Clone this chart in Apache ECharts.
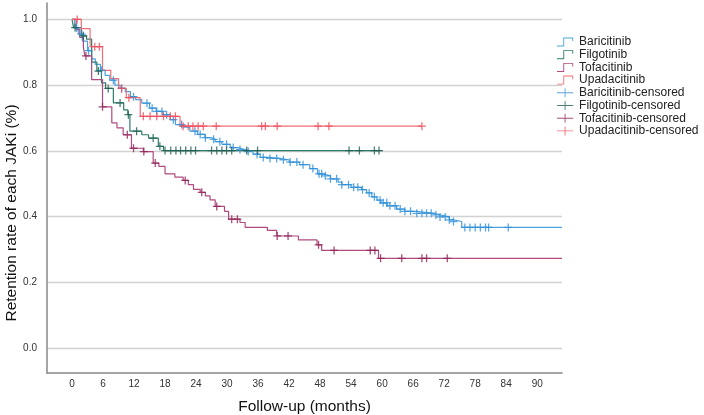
<!DOCTYPE html>
<html>
<head>
<meta charset="utf-8">
<script src="https://cdn.jsdelivr.net/npm/echarts@6/dist/echarts.min.js"></script>
<style>
  html, body { margin: 0; padding: 0; background: #fff; }
  #box { width: 704px; height: 415px; }
</style>
</head>
<body>
<div id="box"></div>
<script>
// x tick labels (months)
var monthTicks = [0, 6, 12, 18, 24, 30, 36, 42, 48, 54, 60, 66, 72, 78, 84, 90];
var rateTicks = [0, 0.2, 0.4, 0.6, 0.8, 1.0];

// KM steps: [month, retention after the step]
var bariSteps = [[0,1.0],[0.5,0.975],[1.2,0.955],[2.0,0.934],[3.0,0.905],[3.8,0.88],[4.5,0.863],[5.5,0.845],[6.4,0.83],[7.3,0.815],[8.3,0.80],[9.3,0.79],[10.3,0.78],[11.3,0.765],[12.3,0.756],[13.5,0.745],[15.0,0.73],[16.3,0.72],[17.6,0.71],[19.0,0.695],[20.0,0.68],[21.5,0.672],[22.8,0.66],[24.3,0.65],[25.7,0.64],[27.0,0.635],[27.7,0.628],[29.0,0.62],[30.6,0.61],[32.0,0.604],[33.5,0.598],[35.0,0.59],[36.4,0.58],[38.0,0.577],[40.0,0.573],[42.0,0.566],[44.0,0.558],[46.0,0.546],[47.5,0.53],[48.5,0.524],[50.0,0.515],[51.5,0.505],[52.2,0.497],[54.0,0.489],[56.0,0.482],[57.0,0.472],[58.0,0.46],[59.0,0.45],[59.8,0.442],[61.0,0.433],[62.8,0.423],[64.4,0.416],[66.7,0.41],[70.0,0.405],[71.2,0.399],[73.0,0.39],[73.8,0.385],[75.4,0.367],[94.8,0.367]];
var filgSteps = [[0,1.0],[0.3,0.975],[1.8,0.95],[2.8,0.94],[3.8,0.87],[4.8,0.843],[5.7,0.807],[6.5,0.79],[8.0,0.746],[10.0,0.725],[10.8,0.71],[11.2,0.66],[13.5,0.649],[14.8,0.639],[16.7,0.614],[17.7,0.601],[59.9,0.601]];
var tofaSteps = [[0,1.0],[0.8,0.97],[1.5,0.945],[2.2,0.915],[2.5,0.889],[3.8,0.817],[5.9,0.734],[7.7,0.685],[8.7,0.67],[9.9,0.649],[11.5,0.608],[13.8,0.598],[15.7,0.563],[16.8,0.553],[18.0,0.53],[19.9,0.52],[21.5,0.51],[22.5,0.497],[23.5,0.483],[24.8,0.474],[25.8,0.463],[26.7,0.451],[27.7,0.431],[29.5,0.416],[30.3,0.392],[32.5,0.382],[33.5,0.367],[37.8,0.358],[39.6,0.341],[43.8,0.329],[47.4,0.314],[48.3,0.297],[59.3,0.273],[94.8,0.273]];
var upadSteps = [[0,1.0],[1.8,0.972],[3.5,0.917],[5.9,0.845],[7.5,0.82],[9.0,0.79],[10.5,0.762],[13.2,0.705],[20.9,0.675],[67.7,0.675]];

// censoring times (months)
var bariCens = [0.9,1.9,3.2,5.7,8.0,9.6,11.9,14.5,15.5,16.4,17.4,18.3,19.6,21.2,23.8,24.8,25.8,27.4,28.6,29.9,31.2,32.5,34.1,35.8,37.0,38.3,39.6,40.9,42.2,43.5,44.7,46.6,47.8,48.3,49.0,50.0,51.2,52.2,53.5,54.5,55.3,56.2,57.5,58.5,59.6,60.2,60.9,61.5,62.5,63.5,64.4,65.5,66.7,67.7,68.6,69.5,70.4,71.2,72.2,73.0,73.8,76.0,77.0,78.0,79.0,80.0,80.6,84.4];
var filgCens = [0.6,2.2,5.1,7.0,9.3,10.9,12.5,15.7,17.0,18.0,19.1,20.1,21.0,22.0,23.0,23.9,27.0,28.0,29.0,29.9,30.9,33.8,35.9,53.6,55.6,58.5,59.4];
var tofaCens = [2.7,5.9,10.7,11.9,13.9,16.1,21.9,25.1,28.0,30.9,32.0,39.7,41.8,47.7,50.7,57.7,58.6,59.7,63.8,67.7,68.6,72.6];
var upadCens = [1.0,4.4,5.3,9.6,11.0,13.8,15.1,16.4,17.7,19.0,20.0,21.5,22.5,23.4,24.4,25.4,27.9,36.7,37.4,39.7,47.6,49.7,67.7];

var names = ['Baricitinib', 'Filgotinib', 'Tofacitinib', 'Upadacitinib'];
var lineColors = ['#4ba3dd', '#2d7d6a', '#b04a80', '#f26d75'];
var crossColors = ['#2f8fd8', '#1f5e50', '#8e1f52', '#f04a5a'];

//查找某时刻的生存率
function survAt(steps, t) {
    var v = steps[0][1];
    for (var i = 0; i < steps.length; i++) {
        if (steps[i][0] <= t) v = steps[i][1];
    }
    return v;
}

var stepIcon = 'path://M0,9L8,9L8,10L0,10Z M7,0L8,0L8,10L7,10Z M7,0L18,0L18,1L7,1Z M17,0L18,0L18,4L17,4Z';
var crossIcon = 'path://M0,4.5L18,4.5L18,5.5L0,5.5Z M8.5,0L9.5,0L9.5,10L8.5,10Z';
var crossMark = 'path://M0,4.2L10,4.2L10,5.8L0,5.8Z M4.2,0L5.8,0L5.8,10L4.2,10Z';

var allSteps = [bariSteps, filgSteps, tofaSteps, upadSteps];
var allCens = [bariCens, filgCens, tofaCens, upadCens];

var series = [];
var legendData = [];
for (var k = 0; k < 4; k++) {
    series.push({
        name: names[k],
        type: 'line',
        step: 'end',
        data: allSteps[k],
        showSymbol: false,
        symbol: 'none',
        lineStyle: { color: lineColors[k], width: 1.2 },
        itemStyle: { color: lineColors[k] },
        z: 2 + k
    });
    legendData.push({ name: names[k], icon: stepIcon });
}
for (var k = 0; k < 4; k++) {
    series.push({
        name: names[k] + '-censored',
        type: 'scatter',
        symbol: crossMark,
        symbolSize: 8,
        data: allCens[k].map(function (t) { return [t, survAt(allSteps[k], t)]; }),
        itemStyle: { color: crossColors[k] },
        z: 10
    });
    legendData.push({ name: names[k] + '-censored', icon: crossIcon });
}

var font = 'Liberation Sans, Arial, sans-serif';
var myChart = echarts.init(document.getElementById('box'));
var option = {
    backgroundColor: '#fff',
    animation: false,
    textStyle: { fontFamily: font },
    grid: { left: 47, right: 142, top: 3, bottom: 42, outerBoundsMode: 'none', containLabel: false },
    legend: {
        orient: 'vertical',
        left: 557,
        top: 36,
        padding: 0,
        itemWidth: 18,
        itemHeight: 9,
        itemGap: 0.7,
        textStyle: { fontSize: 12, color: '#222', lineHeight: 12, fontFamily: font },
        data: legendData
    },
    xAxis: {
        type: 'value',
        min: -4.84,
        max: 94.8,
        name: 'Follow-up (months)',
        nameLocation: 'middle',
        nameGap: 26,
        nameTextStyle: { fontSize: 15.5, color: '#111', fontFamily: font },
        axisLine: { show: true, onZero: false, lineStyle: { color: '#888', width: 1.5 } },
        axisTick: { show: false, customValues: monthTicks },
        axisLabel: { customValues: monthTicks, fontSize: 10, color: '#333', margin: 6 },
        splitLine: { show: false }
    },
    yAxis: {
        type: 'value',
        min: -0.076,
        max: 1.05,
        axisLine: { show: true, onZero: false, lineStyle: { color: '#888', width: 1.5 } },
        axisTick: { show: false, customValues: rateTicks },
        axisLabel: {
            customValues: rateTicks, fontSize: 10, color: '#333', margin: 10,
            formatter: function (v) { return v.toFixed(1); }
        },
        splitLine: { show: true, lineStyle: { color: '#d2d2d2', width: 1.3 } }
    },
    graphic: [{
        type: 'text',
        x: 12,
        y: 213,
        rotation: Math.PI / 2,
        style: {
            text: 'Retention rate of each JAKi (%)',
            fontSize: 15.5,
            fontFamily: font,
            fill: '#111',
            textAlign: 'center',
            textVerticalAlign: 'middle'
        }
    }],
    series: series
};
myChart.setOption(option);
</script>
</body>
</html>
